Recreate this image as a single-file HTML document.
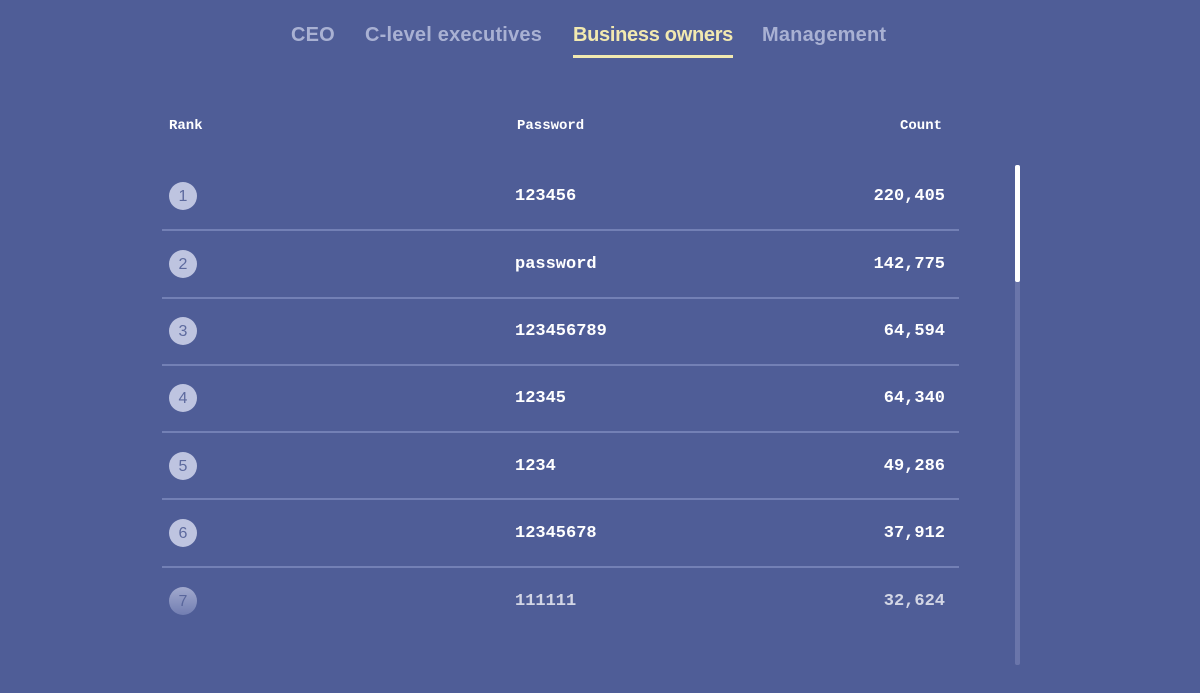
<!DOCTYPE html>
<html><head><style>
body{margin:0;width:1200px;height:693px;background:#4f5d97;position:relative;overflow:hidden;font-family:"Liberation Sans",sans-serif}
.t{position:absolute;top:24px;font-size:20px;font-weight:bold;color:#a9b1d3;white-space:nowrap;letter-spacing:0.2px}
.h{position:absolute;top:118px;font-family:"Liberation Mono",monospace;font-weight:bold;font-size:14px;color:#fff}
.r{position:absolute;left:0;width:1200px;height:30px}
.c{position:absolute;left:169px;width:28px;height:28px;border-radius:50%;background:#bec4e0;color:#5d6a9e;font-size:16px;text-align:center;line-height:30px}
.p,.n{position:absolute;font-family:"Liberation Mono",monospace;font-weight:bold;font-size:17px;color:#fff;top:5px}
.p{left:515px}.n{right:255px}
.s{position:absolute;left:162px;width:797px;height:2px;background:#7380b5}
</style></head><body>
<div class="t" style="left:291px">CEO</div>
<div class="t" style="left:365px">C-level executives</div>
<div class="t" style="left:573px;color:#f2e9b0;letter-spacing:-0.3px">Business owners</div>
<div style="position:absolute;left:573px;top:55px;width:160px;height:3px;background:#f2e9b0"></div>
<div class="t" style="left:762px">Management</div>
<div class="h" style="left:169px">Rank</div>
<div class="h" style="left:517px">Password</div>
<div class="h" style="right:258px">Count</div>
<div style="position:absolute;left:1015px;top:165px;width:5px;height:500px;background:#6a75aa;border-radius:2px"></div>
<div style="position:absolute;left:1015px;top:165px;width:5px;height:117px;background:#fff;border-radius:2px"></div>

<div class="r" style="top:182px"><div class="c">1</div><div class="p">123456</div><div class="n">220,405</div></div>
<div class="s" style="top:229px"></div>
<div class="r" style="top:250px"><div class="c">2</div><div class="p">password</div><div class="n">142,775</div></div>
<div class="s" style="top:297px"></div>
<div class="r" style="top:317px"><div class="c">3</div><div class="p">123456789</div><div class="n">64,594</div></div>
<div class="s" style="top:364px"></div>
<div class="r" style="top:384px"><div class="c">4</div><div class="p">12345</div><div class="n">64,340</div></div>
<div class="s" style="top:431px"></div>
<div class="r" style="top:452px"><div class="c">5</div><div class="p">1234</div><div class="n">49,286</div></div>
<div class="s" style="top:498px"></div>
<div class="r" style="top:519px"><div class="c">6</div><div class="p">12345678</div><div class="n">37,912</div></div>
<div class="s" style="top:566px"></div>
<div class="r" style="top:587px;opacity:0.75"><div class="c" style="background:linear-gradient(#bec4e0,#7e89bb)">7</div><div class="p">111111</div><div class="n">32,624</div></div>
</body></html>
